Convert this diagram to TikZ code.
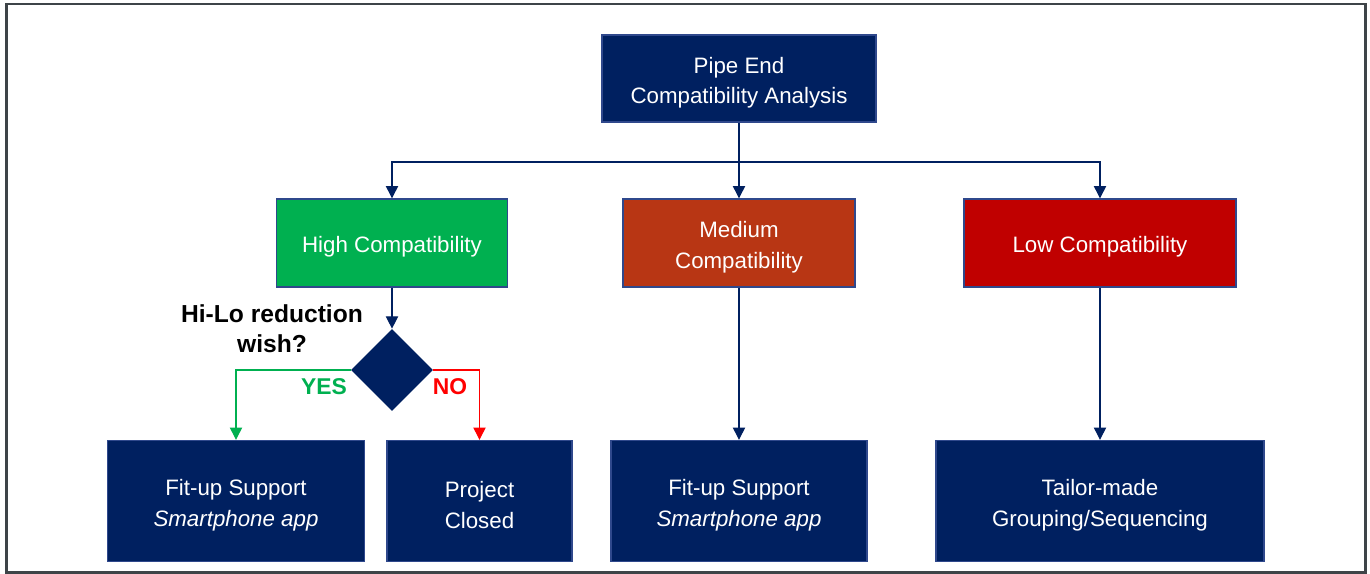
\documentclass[tikz,border=0pt]{standalone}
\usepackage{fontspec}
\setmainfont{Liberation Sans}
\definecolor{pnavy}{RGB}{0,32,96}
\definecolor{pedge}{RGB}{47,72,140}
\definecolor{pgreen}{RGB}{0,176,80}
\definecolor{prust}{RGB}{184,54,20}
\definecolor{pdred}{RGB}{192,0,0}
\definecolor{pred}{RGB}{255,0,0}
\definecolor{pframe}{RGB}{62,68,72}
\usetikzlibrary{arrows.meta,positioning,shapes.geometric}

\begin{document}
\begin{tikzpicture}[x=0.02cm, y=-0.02cm,
        lift/.style={execute at begin node={\vrule width 0pt height #1}},
        box/.style={rectangle, minimum height=1.76cm, draw=pedge, line width=0.8pt,
          align=center, text=white, inner sep=2pt, font=\fontsize{12.7}{17.5}\selectfont, lift=14pt},
        twoline/.style={lift=31.5pt},
        endbox/.style={box, twoline, fill=pnavy, minimum height=2.42cm},
        decision/.style={diamond, fill=pnavy, minimum width=1.64cm, minimum height=1.64cm, inner sep=0pt},
        arrow/.style={-{Triangle[length=7pt, width=7pt]}, line width=0.7pt, pnavy},
        answer/.style={font=\fontsize{13}{15}\selectfont\bfseries}
      ]
        \useasboundingbox (0,0) rectangle (1370,574);
        \draw[pframe, line width=1.7pt] (6.5,4) rectangle (1365.5,572.5);

        \node[box, twoline, fill=pnavy, minimum width=5.48cm, minimum height=1.74cm] (top) at (739,78.5) {Pipe End\\Compatibility Analysis};
        \node[box, fill=pgreen, minimum width=4.62cm]          (high) at (392,243)  {High Compatibility};
        \node[box, twoline, fill=prust, minimum width=4.64cm]  (med)  at (739,243)  {Medium\\Compatibility};
        \node[box, fill=pdred, minimum width=5.44cm]           (low)  at (1100,243) {Low Compatibility};

        \node[decision] (wish) at (392,370) {};
        \node[align=center, font=\fontsize{14}{17}\selectfont\bfseries] (quest) at (272,329) {Hi-Lo reduction\\wish?};

        \node[endbox, minimum width=5.14cm] (fitA) at (236,501)   {Fit-up Support\\\textit{Smartphone app}};
        \node[endbox, minimum width=3.7cm]  (proj) at (479.5,501) {Project\\Closed};
        \node[endbox, minimum width=5.12cm] (fitB) at (739,501)   {Fit-up Support\\\textit{Smartphone app}};
        \node[endbox, minimum width=6.56cm] (tail) at (1100,501)  {Tailor-made\\Grouping/Sequencing};

        \node[answer, text=pgreen] (yes) at (324,387) {YES};
        \node[answer, text=pred]   (no)  at (450,387) {NO};

        \coordinate (bus) at (739,162);
        \draw[arrow] (top.south) -- (bus) -| (high.north);
        \draw[arrow] (bus) -| (low.north);
        \draw[arrow] (bus) -- (med.north);
        \draw[arrow] (high.south) -- (wish.north);
        \draw[arrow, pgreen] (wish.west) -| (fitA.north);
        \draw[arrow, pred]   (wish.east) -| (proj.north);
        \draw[arrow] (med.south) -- (fitB.north);
        \draw[arrow] (low.south) -- (tail.north);
      \end{tikzpicture}
\end{document}
